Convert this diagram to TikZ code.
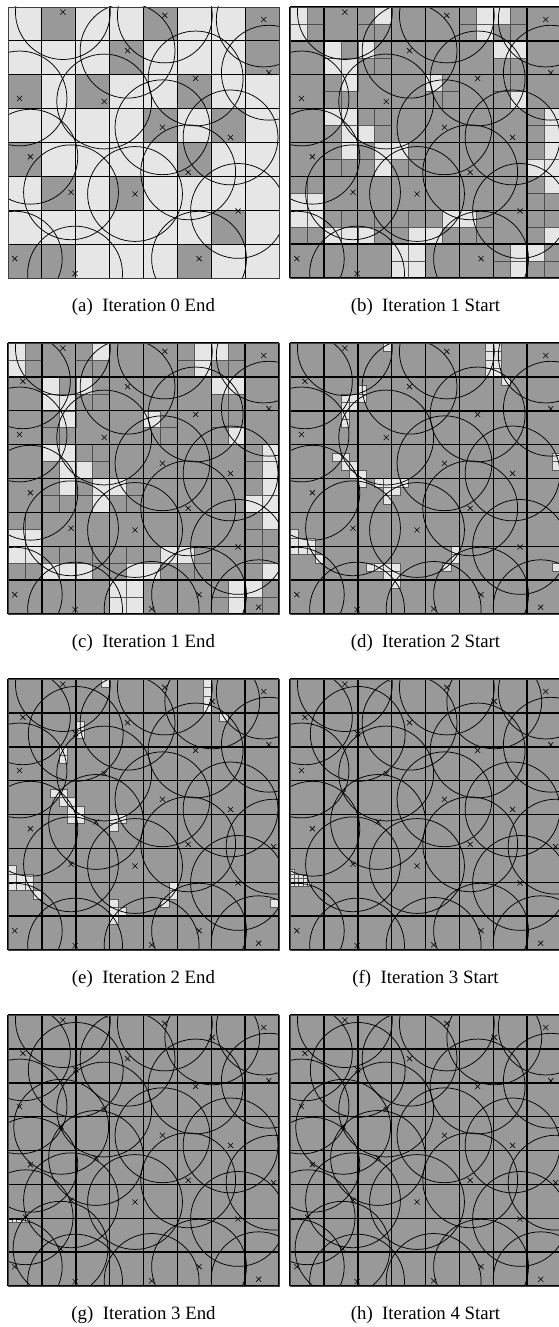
\documentclass[tikz,border=0pt]{standalone}
\usepackage{fontspec}
\setmainfont{Liberation Serif}
\definecolor{dk}{RGB}{153,153,153}
\definecolor{lt}{RGB}{230,230,230}
\tikzset{
  circ/.style={line width=0.75pt, black},
  xm/.style={line width=0.6pt, black},
  sub/.style={line width=0.5pt, black!70},
  ltcell/.style={fill=lt, draw=black!65, line width=0.5pt},
  captext/.style={font=\fontsize{18.8}{22}\selectfont, inner sep=0pt},
}
\def\cs{33.875}
% sensors (cell units, y downwards)
\edef\SA{1.62/0.15, 4.63/0.25, 7.55/0.37, 3.53/1.29, 7.70/1.94, 0.34/2.70, 2.84/2.79, 5.54/2.11, 4.56/3.55, 6.57/3.85, 0.66/4.42, 5.32/4.88, 1.86/5.47, 3.75/5.52, 6.79/6.02, 0.2/7.43, 5.64/7.43, 1.98/7.87}
\edef\SB{\SA, 0.44/1.13, 7.40/7.8, 4.24/7.85}
\edef\SC{\SB, 6.03/0.66, 2.0/1.62, 2.6/4.22, 7.84/4.95}
\edef\SD{\SC, 1.57/3.3, 0.52/5.97, 1.55/6.9}
% light cells
\def\LA{1/0,4/0,7/0,3/1,7/1,0/2,2/2,5/2,4/3,6/3,0/4,5/4,1/5,3/5,6/6,0/7,5/7,1/7}
\def\LB{0/0,5/0,11/0,12/0, 0/1,11/1, 2/2,4/2,12/2,13/2, 2/3,3/3, 3/4,8/4, 13/5, 2/6,3/6,15/6, 3/7,4/7,15/7, 3/8,5/8,6/8,15/8, 5/9,14/9,15/9, 15/10, 0/11,1/11, 0/12,1/12,9/12,10/12, 2/13,3/13,4/13,7/13,8/13,15/13, 6/14,7/14,13/14,14/14, 6/15,7/15,13/15}
\def\LD{11/0, 23/0,23/1,23/2,23/3,24/0,24/1,24/2,24/3,25/4, 8/5,8/6,6/6,7/6,6/7,7/7,6/8,6/9, 5/13,6/13,6/14,7/14,7/15,8/15,8/16,10/16,11/16,12/16,13/16,11/17,12/17, 11/18, 0/22,0/23,0/24,1/23,2/23,1/24,2/24,3/25, 9/26,10/26,11/26,12/26,11/27,12/27,12/28, 18/26,19/24,19/25, 31/13,31/14, 31/26}
\def\LE{11/0, 23/0,23/1,23/2,23/3, 25/4, 8/5,8/6, 6/8,6/9, 5/13,6/13, 6/14,7/14, 7/15,8/15,7/16,8/16, 12/16,13/16,12/17, 0/22,0/23,0/24,1/23,2/23,1/24,2/24,3/25, 12/26,12/27,13/27,12/28, 18/26,19/24,19/25, 31/26}
\def\LF{0/45, 0/46,1/46,2/46,3/46, 0/47,1/47,2/47,3/47, 0/48,1/48,2/48,3/48,4/48}
\def\LG{0/48,1/48,2/48,3/48,4/48}

\newcommand\fillA{\fill[lt] (0,0) rectangle (8,8);
  \foreach \i/\j in \LA {\fill[dk] (\i,\j) rectangle ++(1,1);}}
\newcommand\fillB{\fill[dk] (0,0) rectangle (8,8);
  \foreach \i/\j in \LB {\pgfmathtruncatemacro\p{int(\i/2)}\pgfmathtruncatemacro\q{int(\j/2)}
    \draw[sub] (\p+0.5,\q) -- (\p+0.5,\q+1) (\p,\q+0.5) -- (\p+1,\q+0.5);}
  \foreach \i/\j in \LB {\draw[ltcell] (\i/2,\j/2) rectangle ++(0.5,0.5);}}
\newcommand\fillD{\fill[dk] (0,0) rectangle (8,8);
  \foreach \i/\j in \LD {\draw[ltcell] (\i/4,\j/4) rectangle ++(0.25,0.25);}}
\newcommand\fillE{\fill[dk] (0,0) rectangle (8,8);
  \foreach \i/\j in \LE {\draw[ltcell] (\i/4,\j/4) rectangle ++(0.25,0.25);}}
\newcommand\fillF{\fill[dk] (0,0) rectangle (8,8);
  \foreach \i/\j in \LF {\draw[ltcell,line width=0.3pt] (\i/8,\j/8) rectangle ++(0.125,0.125);}
  \draw[ltcell,line width=0.3pt] (47/16,0) rectangle ++(0.0625,0.0625);
  \draw[ltcell,line width=0.3pt] (25/16,52/16) rectangle ++(0.0625,0.0625);}
\newcommand\fillG{\fill[dk] (0,0) rectangle (8,8);
  \foreach \i/\j in \LG {\draw[ltcell,line width=0.3pt] (\i/8,\j/8) rectangle ++(0.125,0.125);}
  \draw[ltcell,line width=0.3pt] (46/16,0) rectangle ++(0.0625,0.0625);}
\newcommand\fillH{\fill[dk] (0,0) rectangle (8,8);}

\newcommand\panel[6]{%
\begin{scope}[shift={(#1pt,-#2pt)},x=\cs pt,y=-\cs pt]
  \coordinate (#6) at (4,8);
  #4
  \foreach \k in {0,...,8}{\draw[line width=#5] (\k,0) -- (\k,8); \draw[line width=#5] (0,\k) -- (8,\k);}
  \begin{scope}
    \clip (0,0) rectangle (8,8);
    \foreach \a/\b in #3 {\draw[circ] (\a,\b) circle[radius=1.4];}
  \end{scope}
  \foreach \a/\b in #3 {\draw[xm] (\a-0.075,\b-0.075) -- (\a+0.075,\b+0.075) (\a-0.075,\b+0.075) -- (\a+0.075,\b-0.075);}
  \draw[line width=0.8pt, black!75] (0,0) rectangle (8,8);
\end{scope}}

\begin{document}
\begin{tikzpicture}[x=1pt,y=-1pt]
  \useasboundingbox (0,0) rectangle (559,1327);
  \fill[white] (0,0) rectangle (559,1327);
  \begin{scope}
  \clip (0,0) rectangle (559,1327);
  \panel{8}{7}{\SA}{\fillA}{0.9pt}{pa}
  \panel{290}{7}{\SA}{\fillB}{1.3pt}{pb}
  \panel{8}{343}{\SB}{\fillB}{1.3pt}{pc}
  \panel{290}{343}{\SB}{\fillD}{1.5pt}{pd}
  \panel{8}{679}{\SC}{\fillE}{1.5pt}{pe}
  \panel{290}{679}{\SC}{\fillF}{1.5pt}{pf}
  \panel{8}{1015}{\SD}{\fillG}{1.5pt}{pg}
  \panel{290}{1015}{\SD}{\fillH}{1.5pt}{ph}
  \end{scope}
  \node[captext] (ca) at ([yshift=-29pt]pa) {(a)\hspace{0.5em}Iteration 0 End};
  \node[captext] (cb) at ([yshift=-29pt]pb) {(b)\hspace{0.5em}Iteration 1 Start};
  \node[captext] (cc) at ([yshift=-29pt]pc) {(c)\hspace{0.5em}Iteration 1 End};
  \node[captext] (cd) at ([yshift=-29pt]pd) {(d)\hspace{0.5em}Iteration 2 Start};
  \node[captext] (ce) at ([yshift=-29pt]pe) {(e)\hspace{0.5em}Iteration 2 End};
  \node[captext] (cf) at ([yshift=-29pt]pf) {(f)\hspace{0.5em}Iteration 3 Start};
  \node[captext] (cg) at ([yshift=-29pt]pg) {(g)\hspace{0.5em}Iteration 3 End};
  \node[captext] (ch) at ([yshift=-29pt]ph) {(h)\hspace{0.5em}Iteration 4 Start};
\end{tikzpicture}
\end{document}
